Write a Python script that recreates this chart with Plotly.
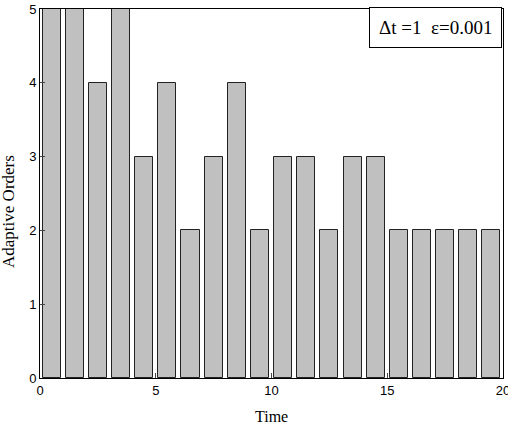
import plotly.graph_objects as go

times = [i + 0.5 for i in range(20)]
orders = [5, 5, 4, 5, 3, 4, 2, 3, 4, 2, 3, 3, 2, 3, 3, 2, 2, 2, 2, 2]
x_ticks = [0, 5, 10, 15, 20]
y_ticks = [0, 1, 2, 3, 4, 5]

fig = go.Figure()
fig.add_trace(go.Bar(
    x=times, y=orders, width=0.78,
    marker=dict(color="#c0c0c0", line=dict(color="#222222", width=1)),
    showlegend=False,
))

fig.update_layout(
    width=508, height=424,
    margin=dict(l=40, r=5, t=9, b=46, autoexpand=False),
    paper_bgcolor="white", plot_bgcolor="white",
    font=dict(family="Liberation Sans, Arial", size=13, color="black"),
    bargap=0,
)
fig.update_xaxes(
    range=[0, 20], tickvals=x_ticks, ticks="inside", ticklen=5,
    showline=True, linecolor="black", linewidth=1, mirror=True,
    showgrid=False, zeroline=False, ticklabeloverflow="allow", automargin=False,
)
fig.update_yaxes(
    range=[0, 5], tickvals=y_ticks, ticks="inside", ticklen=5,
    showline=True, linecolor="black", linewidth=1, mirror=True,
    showgrid=False, zeroline=False, ticklabeloverflow="allow", automargin=False,
)
fig.add_annotation(
    text="Time", xref="paper", yref="paper", x=0.5, y=0, yshift=-28,
    showarrow=False, yanchor="top",
    font=dict(family="Liberation Serif, Times New Roman", size=16),
)
fig.add_annotation(
    text="Adaptive Orders", xref="paper", yref="paper", x=0, y=0.45,
    xshift=-31, textangle=-90, showarrow=False, xanchor="center",
    font=dict(family="Liberation Serif, Times New Roman", size=17),
)
fig.add_annotation(
    text="\u0394t =1  \u03b5=0.001", xref="paper", yref="paper",
    x=0.997, y=1.006, xanchor="right", yanchor="top", showarrow=False,
    bordercolor="black", borderwidth=1, borderpad=9, bgcolor="white",
    font=dict(family="Liberation Serif, Times New Roman", size=19),
)

fig.write_html("out.html")
